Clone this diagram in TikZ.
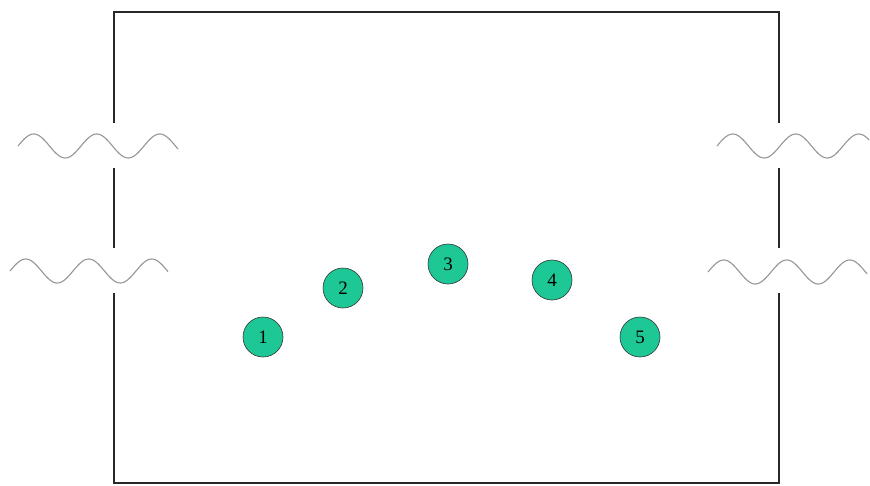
\documentclass[tikz,border=0pt]{standalone}
\usepackage{fontspec}
\setmainfont{Liberation Serif}
\definecolor{ballgreen}{RGB}{30,200,150}
\definecolor{wavegray}{RGB}{150,150,150}
\definecolor{wallgray}{RGB}{40,40,40}
\begin{document}
\begin{tikzpicture}[x=1pt,y=-1pt,
  wall/.style={draw=wallgray,line width=1.3pt},
  wave/.style={draw=wavegray,line width=1.1pt},
  ball/.style={circle,draw=black!80,line width=0.6pt,fill=ballgreen,minimum size=40pt,inner sep=0pt,font=\fontsize{19}{21}\selectfont}]
\useasboundingbox (0,0) rectangle (870,485);
% container walls
\coordinate (tl) at (114,12);
\coordinate (tr) at (779,12);
\coordinate (bl) at (114,483);
\coordinate (br) at (779,483);
\draw[wall] (114,123) -- (tl) -- (tr) -- (779,123);
\draw[wall] (114,168) -- (114,248);
\draw[wall] (779,168) -- (779,248);
\draw[wall] (114,293) -- (bl) -- (br) -- (779,293);
% waves
\draw[wave] plot[domain=18:178,samples=120,smooth] (\x,{146-12*sin((\x-18)/63*360)});
\draw[wave] plot[domain=10:168,samples=120,smooth] (\x,{271-12*sin((\x-10)/63*360)});
\draw[wave] plot[domain=717:869,samples=120,smooth] (\x,{146-12*sin((\x-717)/63*360)});
\draw[wave] plot[domain=708:867,samples=120,smooth] (\x,{272-12*sin((\x-708)/63*360)});
% balls
\node[ball] (c1) at (263,337) {1};
\node[ball] (c2) at (343,288) {2};
\node[ball] (c3) at (448,264) {3};
\node[ball] (c4) at (552,280) {4};
\node[ball] (c5) at (640,337) {5};
\end{tikzpicture}
\end{document}
